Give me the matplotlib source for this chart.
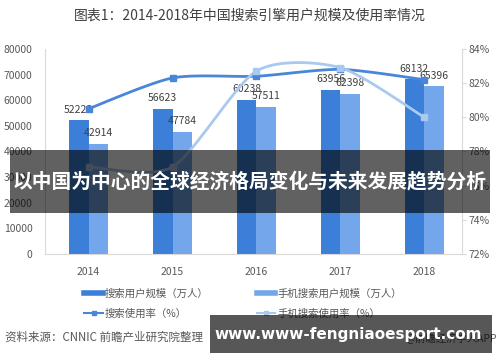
'''
Search engine users chart, 2014-2018
'''

import numpy as np
import matplotlib
matplotlib.use('Agg')
import matplotlib.pyplot as plt
from matplotlib.lines import Line2D
from matplotlib.patches import Rectangle

plt.rcParams['font.family'] = ['Noto Sans CJK SC', 'DejaVu Sans']

# Data
years = ['2014', '2015', '2016', '2017', '2018']
search_users = [52223, 56623, 60238, 63956, 68132]
mobile_users = [42914, 47784, 57511, 62398, 65396]
search_rate = [80.5, 82.3, 82.4, 82.8, 82.2]
mobile_rate = [77.1, 77.1, 82.7, 82.9, 80.0]

title = '图表1：2014-2018年中国搜索引擎用户规模及使用率情况'
labels = ['搜索用户规模（万人）', '手机搜索用户规模（万人）', '搜索使用率（%）', '手机搜索使用率（%）']
source = '资料来源：CNNIC 前瞻产业研究院整理'
banner = '以中国为中心的全球经济格局变化与未来发展趋势分析'
site = 'www.www-fengniaoesport.com'

c_dark = '#3c7fd9'
c_light = '#73a6ea'
c_line1 = '#4a86d8'
c_line2 = '#a9c9ef'
c_grey = '#d9d9d9'


def smooth(x, y, n=30, k=1 / 8):
    # bezier through the points (like excel smoothed lines)
    x = np.asarray(x, float)
    y = np.asarray(y, float)
    m = len(x)
    tx, ty = [], []
    for i in range(m - 1):
        p0 = (x[max(i - 1, 0)], y[max(i - 1, 0)])
        p1 = (x[i], y[i])
        p2 = (x[i + 1], y[i + 1])
        p3 = (x[min(i + 2, m - 1)], y[min(i + 2, m - 1)])
        c1 = (p1[0] + (p2[0] - p0[0]) * k, p1[1] + (p2[1] - p0[1]) * k)
        c2 = (p2[0] - (p3[0] - p1[0]) * k, p2[1] - (p3[1] - p1[1]) * k)
        t = np.linspace(0, 1, n)
        for a, b in ((0, tx), (1, ty)):
            b.extend((1 - t) ** 3 * p1[a] + 3 * (1 - t) ** 2 * t * c1[a]
                     + 3 * (1 - t) * t ** 2 * c2[a] + t ** 3 * p2[a])
    return np.array(tx), np.array(ty)


fig = plt.figure(figsize=(5, 3.62), dpi=100)
ax = fig.add_axes([0.09, 0.298, 0.834, 0.567])
x = np.arange(len(years))
w = 0.235

b1 = ax.bar(x - w / 2, search_users, w, color=c_dark, zorder=2)
b2 = ax.bar(x + w / 2, mobile_users, w, color=c_light, zorder=2)
for bars, vals in ((b1, search_users), (b2, mobile_users)):
    for r, v in zip(bars, vals):
        ax.annotate(str(v), (r.get_x() + r.get_width() / 2, v), xytext=(0, 4),
                    textcoords='offset points', ha='center', va='bottom',
                    fontsize=7.5, color='#404040', zorder=5)

ax.set_xlim(-0.52, 4.45)
ax.set_ylim(0, 80000)
ax.set_yticks(range(0, 80001, 10000))
ax.set_xticks(x)
ax.set_xticklabels(years)
ax.tick_params(axis='both', length=0, labelsize=7.5, labelcolor='#595959')
ax.tick_params(axis='y', pad=9)
ax.tick_params(axis='x', pad=9)
for s in ['top', 'right']:
    ax.spines[s].set_visible(False)
for s in ['left', 'bottom']:
    ax.spines[s].set_color(c_grey)

ax2 = ax.twinx()
ax2.set_ylim(72, 84)
ax2.set_yticks(range(72, 85, 2))
ax2.set_yticklabels([f'{v}%' for v in range(72, 85, 2)])
ax2.tick_params(axis='y', length=3, color=c_grey, labelsize=7.5, labelcolor='#595959', pad=2)
for s in ['top', 'left', 'bottom']:
    ax2.spines[s].set_visible(False)
ax2.spines['right'].set_color(c_grey)

sx, sy = smooth(x, search_rate)
ax2.plot(sx, sy, color=c_line1, lw=2, zorder=3)
ax2.plot(x, search_rate, 's', color=c_line1, ms=4, zorder=4)
mx, my = smooth(x, mobile_rate)
ax2.plot(mx, my, color=c_line2, lw=2, zorder=3)
ax2.plot(x, mobile_rate, 's', color=c_line2, ms=4, zorder=4)

# title and legend
fig.text(0.5, 0.957, title, ha='center', va='center', fontsize=10, color='#404040')

handles = [Line2D([], [], color=c_dark, lw=4),
           Line2D([], [], color=c_line1, lw=1.5, marker='s', ms=3.5),
           Line2D([], [], color=c_light, lw=4),
           Line2D([], [], color=c_line2, lw=1.5, marker='s', ms=3.5)]
fig.legend(handles, [labels[0], labels[2], labels[1], labels[3]], ncol=2,
           loc='upper left', bbox_to_anchor=(0.158, 0.218), frameon=False,
           fontsize=7.5, labelcolor='#595959', handlelength=1.8, handletextpad=0.2,
           columnspacing=4.6, labelspacing=0.95, borderpad=0)

fig.text(0.01, 0.068, source, ha='left', va='center', fontsize=8.3, color='#595959', style='italic')
fig.text(0.81, 0.068, '@前瞻经济学人APP', ha='left', va='center', fontsize=7.5, color='#595959')

# overlays
fig.add_artist(Rectangle((0.02, 0.4116), 0.96, 0.174, transform=fig.transFigure,
                         facecolor='black', alpha=0.62, edgecolor='none', zorder=10))
fig.text(0.5, 0.499, banner, ha='center', va='center', fontsize=14.2, fontweight='bold',
         color='white', zorder=11)
fig.add_artist(Rectangle((0.42, 0.025), 0.564, 0.105, transform=fig.transFigure,
                         facecolor='black', alpha=0.66, edgecolor='none', zorder=10))
fig.text(0.696, 0.077, site, ha='center', va='center', fontsize=11, fontweight='bold',
         color='white', family=['DejaVu Sans'], zorder=11)

fig.savefig('out.png', dpi=100)
